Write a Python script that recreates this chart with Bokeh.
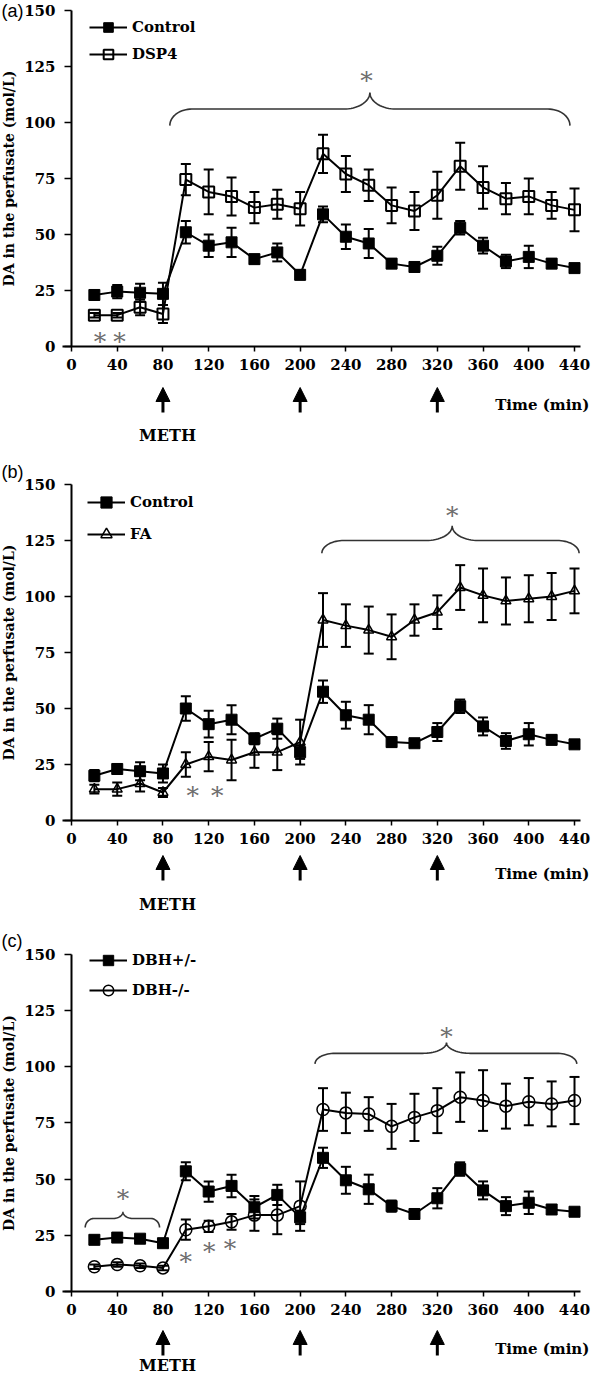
import numpy as np
from bokeh.plotting import figure
from bokeh.models import (Range1d, LinearAxis, FixedTicker, Whisker, TeeHead, ColumnDataSource,
                          Legend, LegendItem, Arrow, NormalHead)
from bokeh.layouts import column
from bokeh.embed import file_html
from bokeh.resources import INLINE
from bokeh.core.properties import value

# ---------------- data ----------------
time_min = [20, 40, 60, 80, 100, 120, 140, 160, 180, 200, 220,
            240, 260, 280, 300, 320, 340, 360, 380, 400, 420, 440]
x_ticks = [0, 40, 80, 120, 160, 200, 240, 280, 320, 360, 400, 440]
y_ticks = [0, 25, 50, 75, 100, 125, 150]
meth_times = [80, 200, 320]

# (a) Control vs DSP4
a_ctrl = [23, 24.5, 24, 23.5, 51, 45, 46.5, 39, 42, 32, 59, 49, 46, 37, 35.5, 40.5, 53, 45, 38, 40, 37, 35]
a_ctrl_err = [2, 3, 4, 5, 5, 5, 6.5, 2, 4, 2, 3.5, 5.5, 6.5, 2, 1.5, 4, 3, 3.5, 3, 5, 2, 1.5]
a_dsp4 = [14, 14, 17.5, 14.5, 74.5, 69, 67, 62, 63.5, 61.5, 86, 77, 72, 63, 60.5, 67.5, 80.5, 71, 66, 67, 63, 61]
a_dsp4_err = [1, 1, 3.5, 4, 7, 10, 8.5, 7, 6.5, 7.5, 8.5, 8, 7, 8, 8.5, 10.5, 10.5, 9.5, 7, 8, 6, 9.5]

# (b) Control vs FA
b_ctrl = [20, 23, 22, 21, 50, 43, 45, 36.5, 41, 30.5, 57.5, 47, 45, 35, 34.5, 39.5, 51, 42, 35.5, 38.5, 36, 34]
b_ctrl_err = [2.5, 2, 4, 4, 5.5, 6, 6.5, 2.5, 4.5, 3, 5, 6, 6.5, 2, 1.5, 4, 3, 4, 3.5, 5, 2, 1.5]
b_fa = [14, 14, 16.5, 12.5, 25, 28.5, 27, 30.5, 30.5, 35, 89.5, 87, 85, 82, 89.5, 93, 104, 100.5, 98, 99, 100, 102.5]
b_fa_err = [2, 3, 3.5, 2, 5.5, 6.5, 9, 7, 8, 10, 12, 9.5, 10.5, 10, 7, 7.5, 10, 12, 10.5, 10.5, 10.5, 10]

# (c) DBH+/- vs DBH-/-
c_het = [23, 24, 23.5, 21.5, 53.5, 44.5, 47, 37.5, 43, 33, 59.5, 49.5, 45.5, 38, 34.5, 41.5, 54.5, 45, 38, 39.5, 36.5, 35.5]
c_het_err = [1.5, 1.5, 1.5, 1.5, 4, 4.5, 5, 5, 4.5, 3, 4.5, 6, 6.5, 2.5, 1.5, 4.5, 3, 4, 4, 5, 2, 1.5]
c_ko = [11, 12, 11.5, 10.5, 27.5, 29, 31, 34, 34, 38, 81, 79.5, 79, 73.5, 77.5, 80.5, 86.5, 85, 82.5, 84.5, 83.5, 85]
c_ko_err = [1, 1, 1, 1, 4.5, 2.5, 3.5, 7, 8.5, 11, 9.5, 9, 7.5, 10, 10.5, 10, 11, 13.5, 10, 10.5, 10, 10.5]

# significance marks (x, y in data units)
a_star_x = [258, 25, 42]
a_star_y = [121.5, 5, 5]
b_star_x = [333, 106, 127.5]
b_star_y = [139, 14, 14]
c_star_x = [328, 45, 100, 120.4, 138.6]
c_star_y = [116, 44, 16, 20.3, 21.8]

# braces: (x_start, x_end, x_center, y_end, y_level, y_peak, r_end_px, r_mid_px)
a_braces = [(86, 436, 261, 98.6, 106, 113.4, 22, 26)]
b_braces = [(219, 444, 333, 119.3, 125, 131.5, 22, 26)]
c_braces = [(213, 442, 328, 101.3, 106, 110.8, 20, 24),
            (12, 77, 45, 28.5, 32.5, 35.5, 9, 10)]

# ---------------- layout constants ----------------
W = 592
XS = 1.1432   # px per minute
X0 = 71       # px position of t = 0
SERIF = "DejaVu Serif"


def brace_path(x0, x1, xc, y_end, y_lvl, y_peak, r_end_px, r_mid_px, n=18):
    rxe = r_end_px / XS
    rxm = r_mid_px / XS
    xs, ys = [], []
    t = np.linspace(np.pi, np.pi / 2, n)
    xs += list(x0 + rxe + rxe * np.cos(t)); ys += list(y_end + (y_lvl - y_end) * np.sin(t))
    t = np.linspace(-np.pi / 2, 0, n)
    xs += list(xc - rxm + rxm * np.cos(t)); ys += list(y_peak + (y_peak - y_lvl) * np.sin(t))
    t = np.linspace(np.pi, 1.5 * np.pi, n)
    xs += list(xc + rxm + rxm * np.cos(t)); ys += list(y_peak + (y_peak - y_lvl) * np.sin(t))
    t = np.linspace(np.pi / 2, 0, n)
    xs += list(x1 - rxe + rxe * np.cos(t)); ys += list(y_end + (y_lvl - y_end) * np.sin(t))
    return xs, ys


def make_panel(H, y0, ys, letter, letter_y, s1, s2, braces, star_x, star_y,
               leg, arrow_px, meth_px, time_px):
    p = figure(width=W, height=H,
               x_range=Range1d(-X0 / XS, (W - X0) / XS),
               y_range=Range1d(-(H - y0) / ys, y0 / ys),
               output_backend="svg", toolbar_location=None,
               x_axis_location=None, y_axis_location=None,
               min_border=0, outline_line_color=None, title=None)
    p.xgrid.grid_line_color = None
    p.ygrid.grid_line_color = None
    p.background_fill_color = "white"
    p.border_fill_color = "white"

    yax = LinearAxis(fixed_location=0, bounds=(0, 150),
                     ticker=FixedTicker(ticks=y_ticks, minor_ticks=[]))
    xax = LinearAxis(fixed_location=0, bounds=(-8, 445),
                     ticker=FixedTicker(ticks=x_ticks, minor_ticks=[]))
    for ax in (xax, yax):
        ax.axis_line_width = 2
        ax.axis_line_color = "black"
        ax.major_tick_line_width = 1.5
        ax.major_tick_line_color = "black"
        ax.major_tick_in = 0
        ax.minor_tick_out = 0
        ax.minor_tick_in = 0
        ax.major_label_text_font = SERIF
        ax.major_label_text_font_style = "bold"
        ax.major_label_text_font_size = "15px"
        ax.major_label_text_color = "black"
    yax.major_tick_out = 7
    yax.major_label_standoff = 9
    xax.major_tick_out = 5
    xax.major_label_standoff = 7
    yax.axis_label = "DA in the perfusate (mol/L)"
    yax.axis_label_text_font = SERIF
    yax.axis_label_text_font_style = "bold"
    yax.axis_label_text_font_size = "14px"
    yax.axis_label_text_color = "black"
    yax.axis_label_standoff = 4
    p.add_layout(yax, "left")
    p.add_layout(xax, "below")

    # series
    renderers = []
    for (vals, errs, marker, size, lw, fill, mlw) in (s1, s2):
        src = ColumnDataSource(dict(t=time_min, y=vals,
                                    up=[v + e for v, e in zip(vals, errs)],
                                    lo=[v - e for v, e in zip(vals, errs)]))
        ln = p.line("t", "y", source=src, line_color="black", line_width=2)
        p.add_layout(Whisker(source=src, base="t", upper="up", lower="lo",
                             line_color="black", line_width=2,
                             upper_head=TeeHead(size=10, line_width=2, line_color="black"),
                             lower_head=TeeHead(size=10, line_width=2, line_color="black")))
        sc = p.scatter("t", "y", source=src, marker=marker, size=size,
                       line_color="black", line_width=mlw,
                       fill_color=fill)
        renderers.append((ln, sc))

    (lab1, lab2, vx, vy, h, sp) = leg
    legend = Legend(items=[LegendItem(label=lab1, renderers=list(renderers[0])),
                           LegendItem(label=lab2, renderers=list(renderers[1]))],
                    location=(vx, vy), orientation="vertical",
                    glyph_width=38, glyph_height=h, label_height=h, spacing=sp,
                    padding=0, margin=0, border_line_color=None,
                    background_fill_alpha=0, label_standoff=5,
                    label_text_font=SERIF, label_text_font_style="bold",
                    label_text_font_size="15px", label_text_color="black")
    p.add_layout(legend)

    # braces
    for b in braces:
        bx, by = brace_path(*b)
        p.line(bx, by, line_color="#333333", line_width=1.6)

    # stars
    p.text(x=star_x, y=star_y, text=["*"] * len(star_x),
           text_font=value(SERIF), text_font_size="25px", text_color="#6e6e6e",
           text_align="center", text_baseline="middle", y_offset=6)

    # METH arrows
    tip_px, tail_px = arrow_px
    for tm in meth_times:
        p.add_layout(Arrow(x_start=tm, y_start=-tail_px / ys, x_end=tm, y_end=-tip_px / ys,
                           line_width=3, line_color="black",
                           end=NormalHead(size=14, fill_color="black", line_color="black")))
    p.text(x=[84], y=[-meth_px / ys], text=["METH"], text_font=value(SERIF),
           text_font_style="bold", text_font_size="16px", text_color="black",
           text_align="center", text_baseline="middle")
    p.text(x=[453], y=[-time_px / ys], text=["Time (min)"], text_font=value(SERIF),
           text_font_style="bold", text_font_size="15px", text_color="black",
           text_align="right", text_baseline="middle")

    # panel letter
    p.text(x=[-X0 / XS + 1 / XS], y=[letter_y], text=[letter],
           text_font=value("Liberation Sans"), text_font_size="18px", text_color="black",
           text_align="left", text_baseline="middle")
    return p


pa = make_panel(458, 346, 2.24, "(a)", 149.8,
                (a_ctrl, a_ctrl_err, "square", 11, 1, "black", 1),
                (a_dsp4, a_dsp4_err, "square", 11, 1, None, 2),
                a_braces, a_star_x, a_star_y,
                ("Control", "DSP4", 89, 392, 24, 3), (41, 66), 89, 58)
pb = make_panel(466, 362, 2.24, "(b)", 155.5,
                (b_ctrl, b_ctrl_err, "square", 11, 1, "black", 1),
                (b_fa, b_fa_err, "triangle", 10, 1.5, None, 1.5),
                b_braces, b_star_x, b_star_y,
                ("Control", "FA", 87, 376, 28, 4), (35, 60), 84, 53)
pc = make_panel(454, 367, 2.2467, "(c)", 156.2,
                (c_het, c_het_err, "square", 11, 1, "black", 1),
                (c_ko, c_ko_err, "circle", 12, 1.5, None, 1.5),
                c_braces, c_star_x, c_star_y,
                ("DBH+/-", "DBH-/-", 89, 375, 26, 4), (39, 64), 74, 57)

layout = column(pa, pb, pc, spacing=0)
open("out.html", "w").write(file_html(layout, INLINE))
